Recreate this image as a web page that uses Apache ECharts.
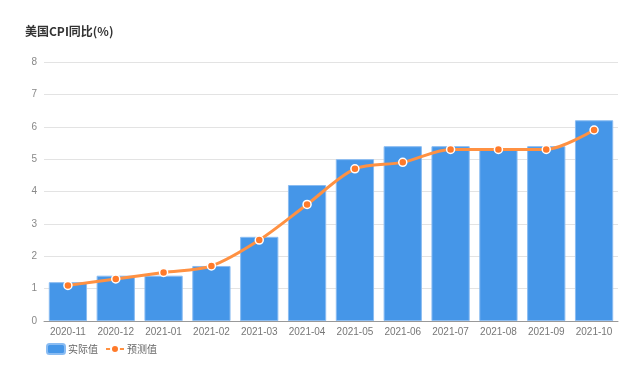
<!DOCTYPE html>
<html><head><meta charset="utf-8">
<script src="https://cdn.jsdelivr.net/npm/echarts@6/dist/echarts.min.js"></script>
<style>html,body{margin:0;padding:0;background:#fff}#c{width:640px;height:369px}</style>
</head><body><div id="c"></div>
<script>
var categories = ['2020-11','2020-12','2021-01','2021-02','2021-03','2021-04','2021-05','2021-06','2021-07','2021-08','2021-09','2021-10'];
var actual = [1.2, 1.4, 1.4, 1.7, 2.6, 4.2, 5.0, 5.4, 5.4, 5.3, 5.4, 6.2];
var forecast = [1.1, 1.3, 1.5, 1.7, 2.5, 3.6, 4.7, 4.9, 5.3, 5.3, 5.3, 5.9];
var yTicks = [0, 8, 1];

var chart = echarts.init(document.getElementById('c'), null, {renderer:'canvas'});
chart.setOption({
  animation: false,
  title: {text: '美国CPI同比(%)', left: 20, top: 20,
    textStyle: {fontSize: 12, fontWeight: 'bold', color: '#333', fontFamily: 'Noto Sans CJK SC'}},
  legend: {left: 46, top: 343, padding: 0, itemWidth: 18, itemHeight: 10, itemGap: 7,
    textStyle: {color: '#666', fontSize: 10, fontFamily: 'Noto Sans CJK SC', padding: [0,0,0,-2]},
    data: ['实际值', '预测值']},
  grid: {left: 44, right: 22, top: 62, bottom: 48},
  xAxis: {type: 'category', data: categories,
    axisLine: {lineStyle: {color: '#999'}},
    axisTick: {show: false},
    axisLabel: {color: '#777', fontSize: 10, margin: 6, interval: 0}},
  yAxis: {type: 'value', min: yTicks[0], max: yTicks[1], interval: yTicks[2],
    axisLine: {show: false}, axisTick: {show: false},
    axisLabel: {color: '#888', fontSize: 10, margin: 7},
    splitLine: {lineStyle: {color: '#e3e3e3'}}},
  series: [
    {name: '实际值', type: 'bar', data: actual, barCategoryGap: '20%',
      itemStyle: {color: '#4596E8', borderColor: '#8ABCF2', borderWidth: 1}},
    {name: '预测值', type: 'line', data: forecast, smooth: 0.3,
      symbol: 'circle', symbolSize: 8,
      lineStyle: {color: '#FF9142', width: 3},
      itemStyle: {color: '#FF7A2A', borderColor: '#fff', borderWidth: 1.5}}
  ]
});
</script></body></html>
